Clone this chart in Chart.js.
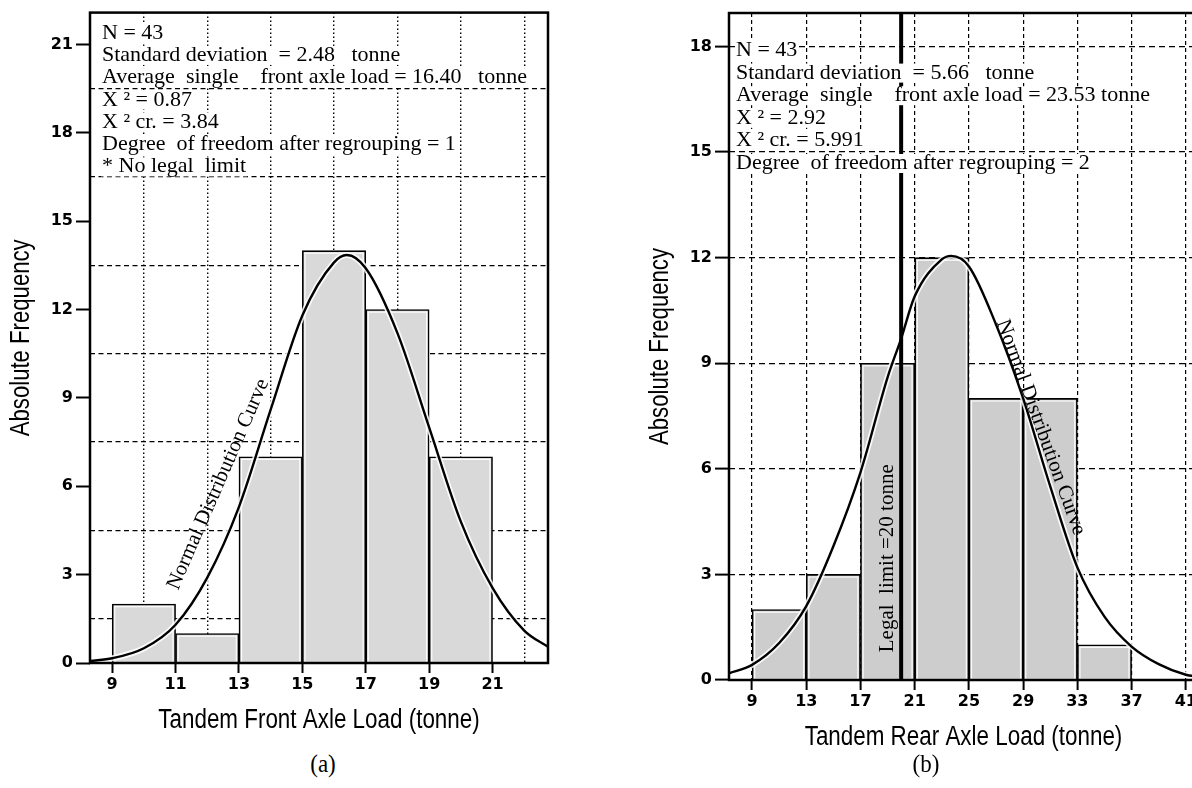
<!DOCTYPE html>
<html>
<head>
<meta charset="utf-8">
<title>Tandem axle load histograms</title>
<script src="https://cdn.jsdelivr.net/npm/chart.js@4.4.1/dist/chart.umd.min.js"></script>
<style>
  html, body { margin: 0; padding: 0; background: #fff; }
  body { position: relative; width: 1192px; height: 788px; overflow: hidden; }
  .panel { position: absolute; top: 0; }
  #panel-a { left: 0; width: 560px; height: 745px; }
  #panel-b { left: 640px; width: 560px; height: 760px; }
  .tag { position: absolute; top: 750px; font: 25px "Liberation Serif", "Times New Roman", serif; transform: translateX(-50%) scaleX(0.92); }
</style>
</head>
<body>
<div class="panel" id="panel-a"><canvas id="chart-a"></canvas></div>
<div class="panel" id="panel-b"><canvas id="chart-b"></canvas></div>
<div class="tag" style="left:323px">(a)</div>
<div class="tag" style="left:926px">(b)</div>
<script>
// (a) tandem front axle, bins 2 tonne wide
const frontBins = [10, 12, 14, 16, 18, 20];
const frontCounts = [2, 1, 7, 14, 12, 7];
const frontCurveX = [8.3, 9, 10, 11, 12, 13, 14, 15, 16, 16.4, 17, 18, 19, 20, 21, 22, 22.75];
const frontCurveY = [0.07, 0.16, 0.5, 1.3, 2.9, 5.3, 8.6, 11.8, 13.6, 13.85, 13.4, 11.2, 8.0, 4.8, 2.55, 1.1, 0.55];
const frontXTicks = [9, 11, 13, 15, 17, 19, 21];
const frontYTicks = [0, 3, 6, 9, 12, 15, 18, 21];
const frontXGrid = [10, 12, 14, 16, 18, 20, 22];
const frontYGrid = [1.5, 4.5, 7.5, 10.5, 13.5, 16.5, 19.5];
const frontNotes = [
  "N = 43",
  "Standard deviation  = 2.48   tonne",
  "Average  single    front axle load = 16.40   tonne",
  "X \u00b2 = 0.87",
  "X \u00b2 cr. = 3.84",
  "Degree  of freedom after regrouping = 1",
  "* No legal  limit",
];

// (b) tandem rear axle, bins 4 tonne wide
const rearBins = [11, 15, 19, 23, 27, 31, 35];
const rearCounts = [2, 3, 9, 12, 8, 8, 1];
const rearCurveX = [7.3, 9, 11, 13, 15, 17, 19, 20, 21, 23, 23.7, 25, 27, 29, 31, 33, 35, 37, 39, 41, 41.9];
const rearCurveY = [0.19, 0.43, 1.05, 2.1, 3.8, 5.9, 8.6, 9.7, 10.9, 11.95, 12.05, 11.75, 10.1, 8.0, 5.5, 3.2, 1.8, 0.95, 0.45, 0.15, 0.1];
const rearXTicks = [9, 13, 17, 21, 25, 29, 33, 37, 41];
const rearYTicks = [0, 3, 6, 9, 12, 15, 18];
const rearNotes = [
  "N = 43",
  "Standard deviation  = 5.66   tonne",
  "Average  single    front axle load = 23.53 tonne",
  "X \u00b2 = 2.92",
  "X \u00b2 cr. = 5.991",
  "Degree  of freedom after regrouping = 2",
];
const rearLegalLimit = 20;

const serif = '"Liberation Serif", "Times New Roman", serif';
const sans = '"Liberation Sans", Arial, sans-serif';

const setTicks = list => scale => {
	scale.ticks = list.map(v => ({ value: v }));
};

// frame, legal limit line, bar highlights, axis titles and text notes
const decor = {
	id: "decor",
	afterDatasetDraw(chart, args) {
		if (args.meta.type !== "bar") return;
		const ctx = chart.ctx;
		ctx.save();
		ctx.strokeStyle = "rgba(255,255,255,0.9)";
		ctx.lineWidth = 1.2;
		args.meta.data.forEach(bar => {
			const { x, y, base, width } = bar.getProps(["x", "y", "base", "width"], true);
			const d = 2.6;
			ctx.strokeRect(x - width / 2 + d, y + d, width - 2 * d, base - y - d);
		});
		ctx.restore();
	},
	afterDatasetsDraw(chart, args, opts) {
		const { ctx, chartArea: a } = chart;
		ctx.save();
		ctx.strokeStyle = "#000";
		ctx.lineWidth = 2.5;
		ctx.strokeRect(a.left, a.top, a.right - a.left, a.bottom - a.top);
		if (opts.legal != null) {
			const lx = chart.scales.x.getPixelForValue(opts.legal);
			ctx.lineWidth = 4;
			ctx.beginPath();
			ctx.moveTo(lx, a.top);
			ctx.lineTo(lx, a.bottom);
			ctx.stroke();
		}
		ctx.restore();
	},
	afterDraw(chart, args, opts) {
		const { ctx, chartArea: a } = chart;
		ctx.save();
		ctx.fillStyle = "#000";
		ctx.textAlign = "center";
		ctx.textBaseline = "middle";
		// condensed axis titles
		ctx.font = "27px " + sans;
		ctx.save();
		ctx.translate((a.left + a.right) / 2, opts.xTitleY);
		ctx.scale(0.83, 1);
		ctx.fillText(opts.xTitle, 0, 0);
		ctx.restore();
		ctx.save();
		ctx.translate(opts.yTitleX, (a.top + a.bottom) / 2);
		ctx.rotate(-Math.PI / 2);
		ctx.scale(0.82, 1);
		ctx.fillText("Absolute Frequency", 0, 0);
		ctx.restore();

		ctx.font = "22px " + serif;
		ctx.textAlign = "left";
		ctx.textBaseline = "alphabetic";
		opts.notes.forEach((t, i) => {
			const x = a.left + opts.noteLeft;
			const y = a.top + opts.noteTop + i * opts.noteStep;
			const w = ctx.measureText(t).width;
			ctx.fillStyle = "#fff";
			ctx.fillRect(x - 1, y - 15, w + 2, 19);
			ctx.fillStyle = "#000";
			ctx.fillText(t, x, y);
		});
		ctx.font = "21px " + serif;
		ctx.textAlign = "center";
		ctx.textBaseline = "middle";
		opts.labels.forEach(l => {
			ctx.save();
			ctx.translate(chart.scales.x.getPixelForValue(l.x), chart.scales.y.getPixelForValue(l.y));
			ctx.rotate((l.angle * Math.PI) / 180);
			ctx.fillStyle = "#000";
			ctx.fillText(l.text, 0, 0);
			ctx.restore();
		});
		ctx.restore();
	},
};

function drawPanel(id, p) {
	const curve = p.curveX.map((x, i) => ({ x: x, y: p.curveY[i] }));
	const bars = p.bins.map((x, i) => ({ x: x, y: p.counts[i] }));
	const tickFont = { family: "DejaVu Sans", size: 16, weight: "bold" };
	return new Chart(document.getElementById(id), {
		type: "bar",
		data: {
			datasets: [
				{
					type: "line",
					data: curve,
					borderColor: "#000",
					borderWidth: 2.4,
					pointRadius: 0,
					cubicInterpolationMode: "monotone",
					order: 1,
				},
				{
					type: "line",
					data: curve,
					borderColor: "rgba(255,255,255,0.85)",
					borderWidth: 6,
					pointRadius: 0,
					cubicInterpolationMode: "monotone",
					order: 2,
				},
				{
					data: bars,
					backgroundColor: p.fill,
					borderColor: "#000",
					borderWidth: 1.6,
					barPercentage: 1,
					categoryPercentage: 1,
					order: 3,
				},
			],
		},
		options: {
			responsive: true,
			maintainAspectRatio: false,
			animation: false,
			events: [],
			layout: { padding: p.padding },
			plugins: {
				legend: { display: false },
				tooltip: { enabled: false },
				decor: {
					notes: p.notes,
					noteLeft: p.noteLeft,
					noteTop: p.noteTop,
					noteStep: p.noteStep,
					labels: p.labels,
					legal: p.legal,
					xTitle: p.xTitle,
					xTitleY: p.xTitleY,
					yTitleX: p.yTitleX,
				},
			},
			scales: {
				x: {
					type: "linear",
					min: p.xMin,
					max: p.xMax,
					offset: false,
					afterBuildTicks: setTicks(p.xTicks),
					afterFit: s => { s.height = p.xAxisHeight; },
					ticks: {
						color: "#000",
						font: tickFont,
						padding: 2,
						maxRotation: 0,
						autoSkip: false,
						callback: v => v,
					},
					grid: p.xGrid
						? { offset: false, drawOnChartArea: false, tickLength: 10, tickWidth: 2, tickColor: "#000" }
						: { offset: false, color: "#000", lineWidth: 1.2, tickLength: 10, tickWidth: 2, tickColor: "#000" },
					border: { display: false, dash: p.xDash },
				},
				y: {
					type: "linear",
					min: 0,
					max: p.yMax,
					afterBuildTicks: setTicks(p.yTicks),
					afterFit: s => { s.width = p.yAxisWidth; },
					ticks: {
						color: "#000",
						font: tickFont,
						padding: 3,
						callback: v => v,
					},
					grid: p.yGrid
						? { drawOnChartArea: false, tickLength: 14, tickWidth: 2, tickColor: "#000" }
						: { color: "#000", lineWidth: 1.2, tickLength: 14, tickWidth: 2, tickColor: "#000" },
					border: { display: false, dash: [6, 4] },
				},
				gx: {
					axis: "x",
					type: "linear",
					position: "bottom",
					display: !!p.xGrid,
					min: p.xMin,
					max: p.xMax,
					offset: false,
					afterBuildTicks: setTicks(p.xGrid || []),
					afterFit: s => { s.height = 0; },
					ticks: { display: false },
					grid: { offset: false, color: "#000", lineWidth: 1.4, drawTicks: false },
					border: { display: false, dash: [1.5, 2.5] },
				},
				gy: {
					axis: "y",
					type: "linear",
					position: "left",
					display: !!p.yGrid,
					min: 0,
					max: p.yMax,
					afterBuildTicks: setTicks(p.yGrid || []),
					afterFit: s => { s.width = 0; },
					ticks: { display: false },
					grid: { color: "#000", lineWidth: 1.2, drawTicks: false },
					border: { display: false, dash: [5, 3.5] },
				},
			},
		},
		plugins: [decor],
	});
}

drawPanel("chart-a", {
	bins: frontBins,
	counts: frontCounts,
	curveX: frontCurveX,
	curveY: frontCurveY,
	xTicks: frontXTicks,
	yTicks: frontYTicks,
	xGrid: frontXGrid,
	yGrid: frontYGrid,
	xMin: 8.3,
	xMax: 22.75,
	yMax: 22.08,
	fill: "#d9d9d9",
	padding: { top: 12, right: 12, left: 0, bottom: 0 },
	xAxisHeight: 82,
	yAxisWidth: 90,
	xTitle: "Tandem Front Axle Load (tonne)",
	xTitleY: 721,
	yTitleX: 22,
	notes: frontNotes,
	noteLeft: 12,
	noteTop: 26,
	noteStep: 22.3,
	labels: [{ text: "Normal Distribution Curve", x: 12.35, y: 6.07, angle: -66.5 }],
	legal: null,
});

drawPanel("chart-b", {
	bins: rearBins,
	counts: rearCounts,
	curveX: rearCurveX,
	curveY: rearCurveY,
	xTicks: rearXTicks,
	yTicks: rearYTicks,
	xGrid: null,
	yGrid: null,
	xDash: [4, 3],
	xMin: 7.3,
	xMax: 41.9,
	yMax: 18.95,
	fill: "#cdcdcd",
	padding: { top: 13, right: 2, left: 0, bottom: 0 },
	xAxisHeight: 80,
	yAxisWidth: 89,
	xTitle: "Tandem Rear Axle Load (tonne)",
	xTitleY: 738,
	yTitleX: 21,
	notes: rearNotes,
	noteLeft: 7,
	noteTop: 43,
	noteStep: 22.6,
	labels: [
		{ text: "Normal Distribution Curve", x: 30.3, y: 7.18, angle: 70 },
		{ text: "Legal  limit =20 tonne", x: 19.0, y: 3.46, angle: -90 },
	],
	legal: rearLegalLimit,
});
</script>
</body>
</html>
